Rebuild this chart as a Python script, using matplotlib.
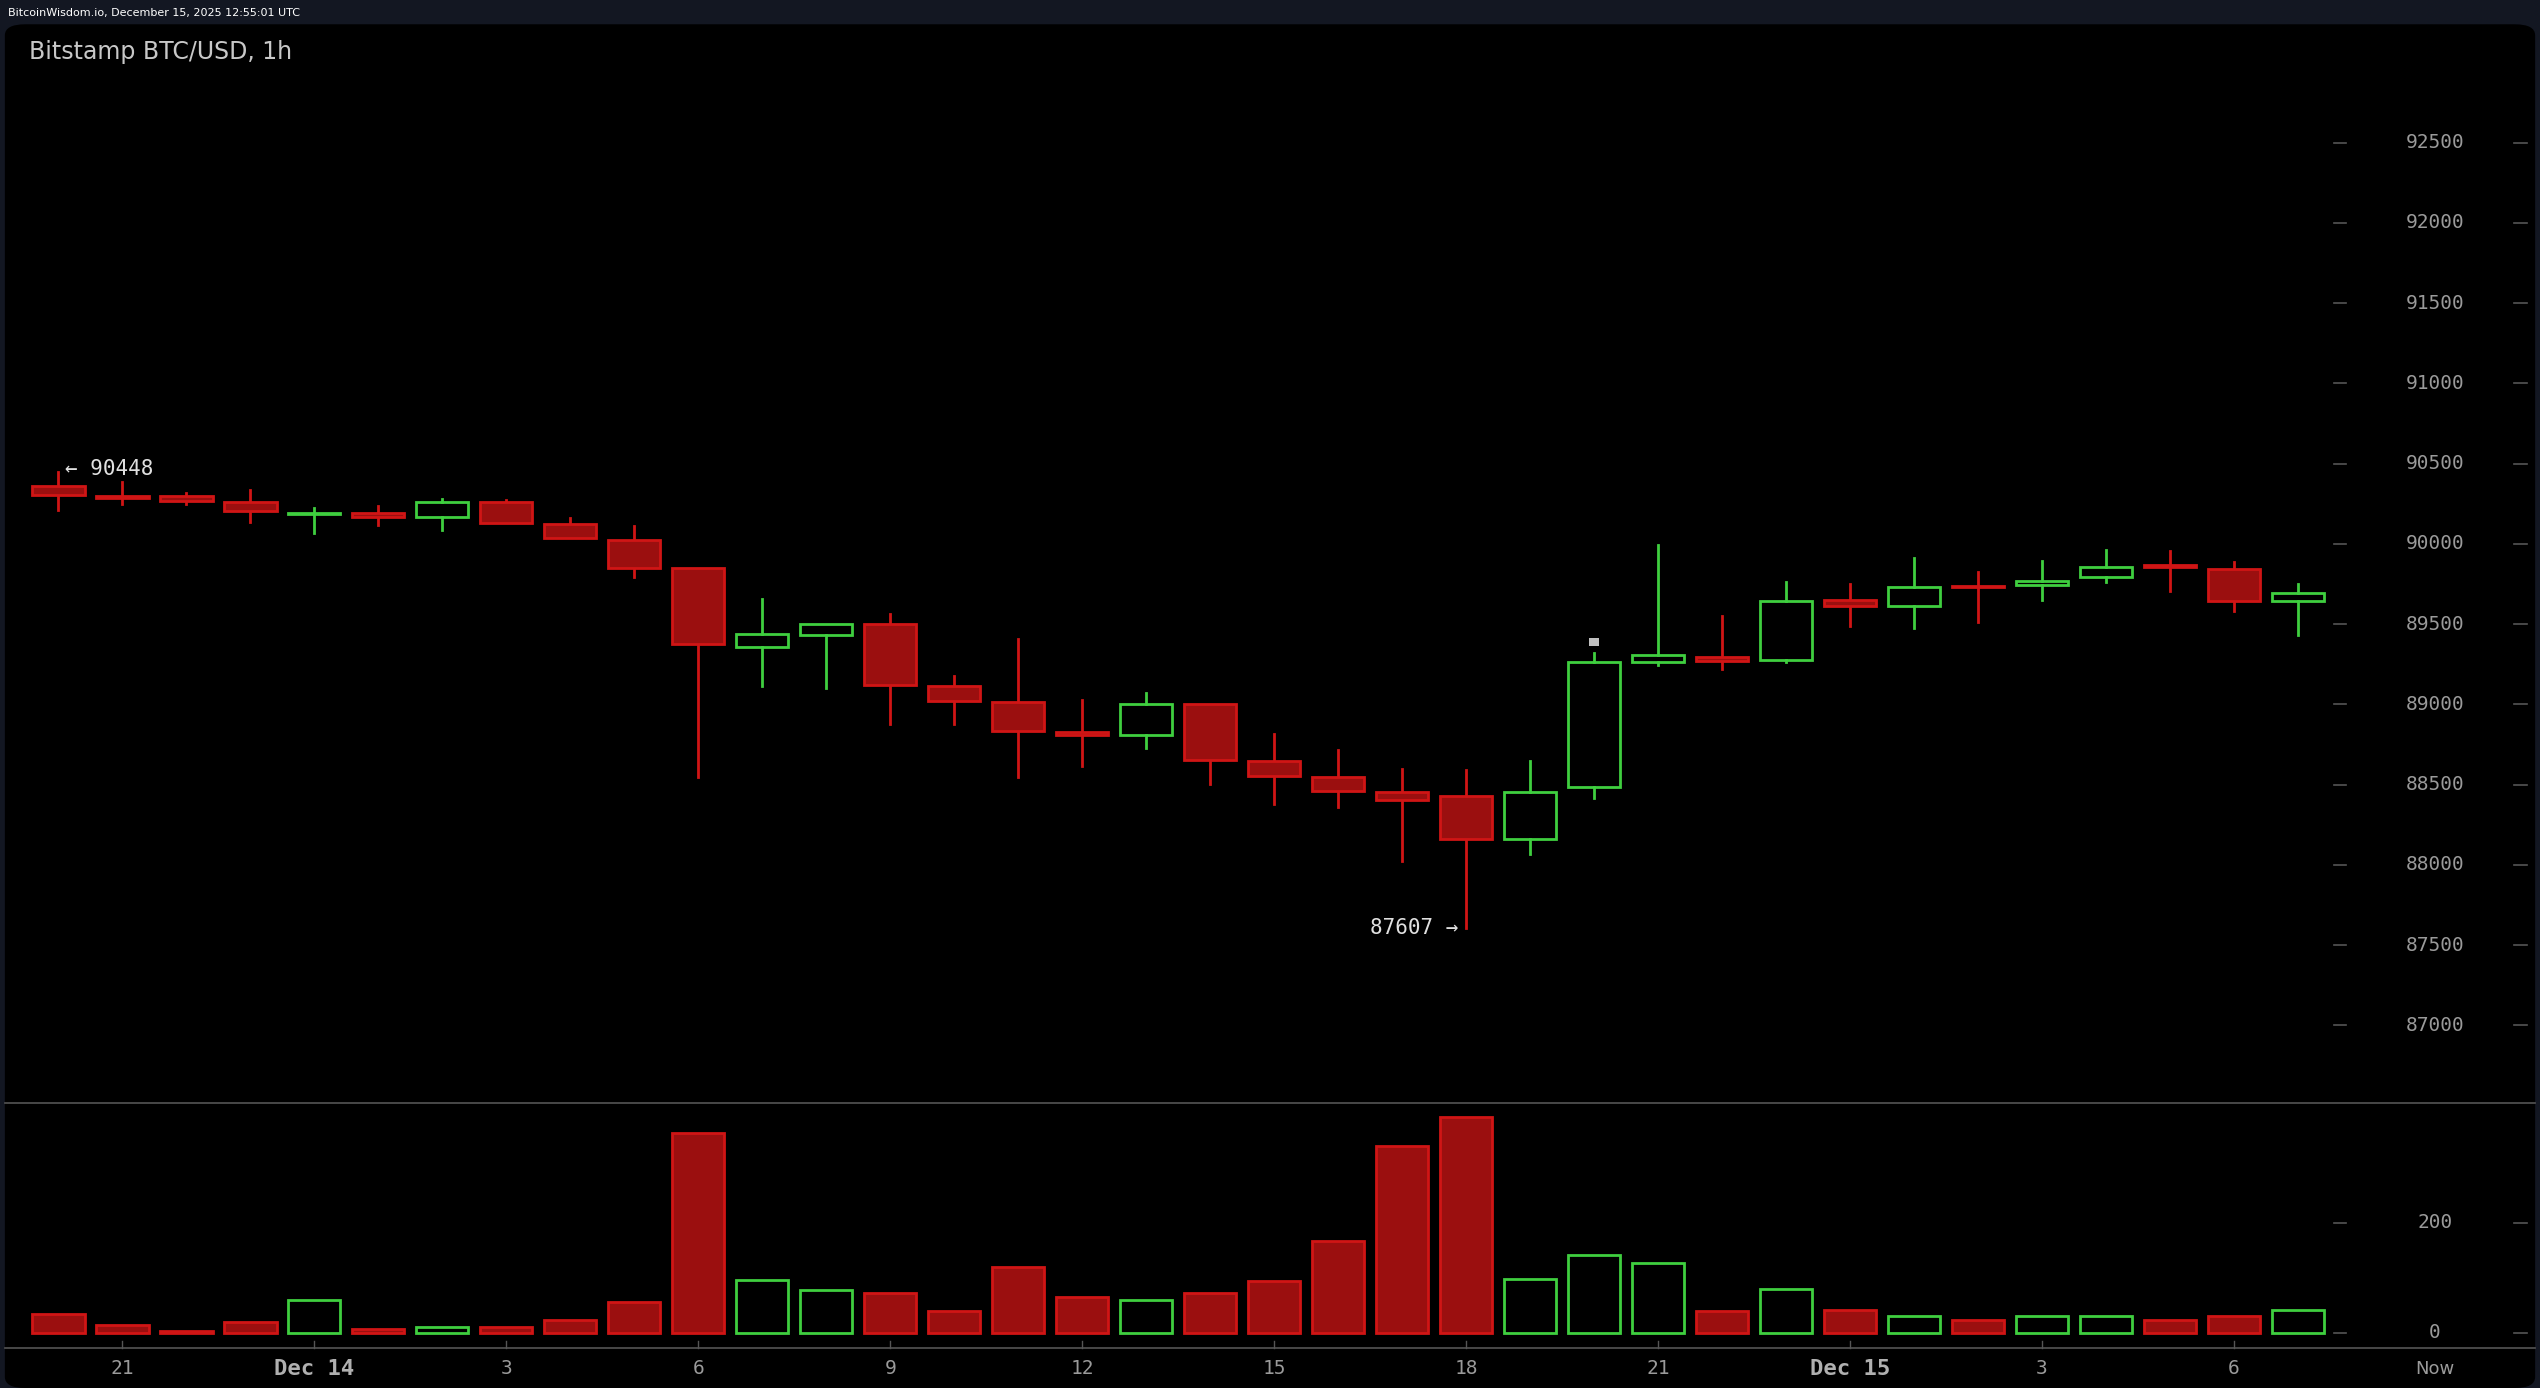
import matplotlib
matplotlib.use("Agg")
import matplotlib.pyplot as plt
from matplotlib.patches import FancyBboxPatch, Rectangle

opens  = [90360,90299,90299,90260,90183,90194,90167,90260,90123,90023,89847,89356,89433,89499,89113,89014,88826,88810,89003,
          88650,88550,88451,88429,88159,88484,89262,89295,89278,89653,89615,89737,89742,89791,89863,89841,89643]
closes = [90305,90288,90266,90205,90194,90167,90260,90128,90034,89852,89378,89438,89499,89119,89019,88832,88810,89003,88655,
          88556,88457,88407,88159,88451,89262,89306,89267,89642,89615,89731,89731,89769,89858,89857,89643,89692]
highs  = [90448,90382,90316,90338,90222,90233,90277,90272,90161,90112,89847,89659,89499,89565,89174,89405,89025,89069,89003,
          88815,88716,88600,88589,88650,89322,89995,89549,89764,89747,89913,89825,89896,89962,89957,89885,89747]
lows   = [90211,90249,90249,90139,90067,90117,90089,90128,90034,89792,88550,89113,89102,88876,88876,88550,88617,88727,88501,
          88379,88363,88021,87607,88065,88418,89245,89223,89262,89488,89477,89510,89648,89764,89709,89582,89433]
volumes = [34,15,3,20,59,7,10,10,24,57,363,96,78,72,39,120,65,59,72,
           94,167,340,392,98,141,127,39,80,42,31,24,31,31,24,31,42]
xtick_pos = [1,4,7,10,13,16,19,22,25,28,31,34]
xtick_lab = ["21","Dec 14","3","6","9","12","15","18","21","Dec 15","3","6"]
price_ticks = [87000,87500,88000,88500,89000,89500,90000,90500,91000,91500,92000,92500]
vol_ticks = [0,200]

W, H = 1568, 857
def fx(x): return x / W
def fy(y): return 1 - y / H

fig = plt.figure(figsize=(25.4, 13.88), dpi=100, facecolor="#131722")
panel = FancyBboxPatch((fx(3), fy(857)), fx(1565) - fx(3), fy(15) - fy(857),
                       boxstyle="round,pad=0,rounding_size=0.008", transform=fig.transFigure,
                       facecolor="black", edgecolor="none", zorder=-5)
fig.patches.append(panel)

x0 = (3 - 36) / 39.5
x1 = (1565 - 36) / 39.5
axp = fig.add_axes([fx(3), fy(681), fx(1565) - fx(3), fy(15) - fy(681)], zorder=2)
axv = fig.add_axes([fx(3), fy(832), fx(1565) - fx(3), fy(681) - fy(832)], zorder=2)
for a in (axp, axv):
    a.set_facecolor("none")
    a.set_xlim(x0, x1)
    a.axis("off")
axp.set_ylim(92500 - (681 - 88) * 10.09, 92500 + (88 - 15) * 10.09)
axv.set_ylim(-(832 - 823) / 0.34, (823 - 681) / 0.34)

RED_F, RED_E, GRN = "#9b0f0f", "#d01515", "#3fcf3f"
bw = 0.82
for i in range(len(opens)):
    o, c, h, l = opens[i], closes[i], highs[i], lows[i]
    up = c >= o
    ec = GRN if up else RED_E
    fc = "none" if up else RED_F
    lo, hi = min(o, c), max(o, c)
    axp.plot([i, i], [hi, h], color=ec, lw=2, zorder=1)
    axp.plot([i, i], [l, lo], color=ec, lw=2, zorder=1)
    axp.add_patch(Rectangle((i - bw / 2, lo), bw, max(hi - lo, 8), facecolor=fc, edgecolor=ec, lw=2, zorder=2))
    axv.add_patch(Rectangle((i - bw / 2, 0), bw, volumes[i], facecolor=fc, edgecolor=ec, lw=2, zorder=2))
axp.add_patch(Rectangle((24 - 0.08, highs[24] + 40), 0.16, 50, facecolor="#c0c0c0", edgecolor="none"))

mono = "DejaVu Sans Mono"
tc = "#9a9a9a"
xl = (1503 - 36) / 39.5
for p in price_ticks:
    axp.text(xl, p, str(p), fontsize=14, color=tc, family=mono, ha="center", va="center")
for v in vol_ticks:
    axv.text(xl, v, str(v), fontsize=14, color=tc, family=mono, ha="center", va="center")
xd1, xd2 = (1441 - 36) / 39.5, (1448 - 36) / 39.5
xd3, xd4 = (1552 - 36) / 39.5, (1560 - 36) / 39.5
for p in price_ticks:
    axp.plot([xd1, xd2], [p, p], color="#555", lw=1.2)
    axp.plot([xd3, xd4], [p, p], color="#555", lw=1.2)
for v in vol_ticks:
    axv.plot([xd1, xd2], [v, v], color="#555", lw=1.2)
    axv.plot([xd3, xd4], [v, v], color="#555", lw=1.2)

fig.add_artist(plt.Line2D([fx(3), fx(1565)], [fy(681), fy(681)], color="#555", lw=1.2))
fig.add_artist(plt.Line2D([fx(3), fx(1565)], [fy(832), fy(832)], color="#555", lw=1.2))

for pos, lab in zip(xtick_pos, xtick_lab):
    xf = fx(36 + 39.5 * pos)
    big = lab.startswith("Dec")
    fig.text(xf, fy(845), lab, fontsize=16 if big else 14, color="#b0b0b0" if big else tc,
             fontweight="bold" if big else "normal", family=mono, ha="center", va="center")
    fig.add_artist(plt.Line2D([xf, xf], [fy(832), fy(828)], color="#555", lw=1))
fig.text(fx(1503), fy(845), "Now", fontsize=13, color=tc, ha="center", va="center")

axp.text(0.1, highs[0] + 20, "← 90448", fontsize=15, color="#e0e0e0", family=mono, ha="left", va="center")
axp.text(22 - 0.12, lows[22], "87607 →", fontsize=15, color="#e0e0e0", family=mono, ha="right", va="center")

fig.text(fx(18), fy(32), "Bitstamp BTC/USD, 1h", fontsize=17, color="#c8c8c8", ha="left", va="center")
fig.text(fx(5), fy(8), "BitcoinWisdom.io, December 15, 2025 12:55:01 UTC", fontsize=8, color="white",
         ha="left", va="center")

fig.savefig("out.png", dpi=100, facecolor=fig.get_facecolor())
